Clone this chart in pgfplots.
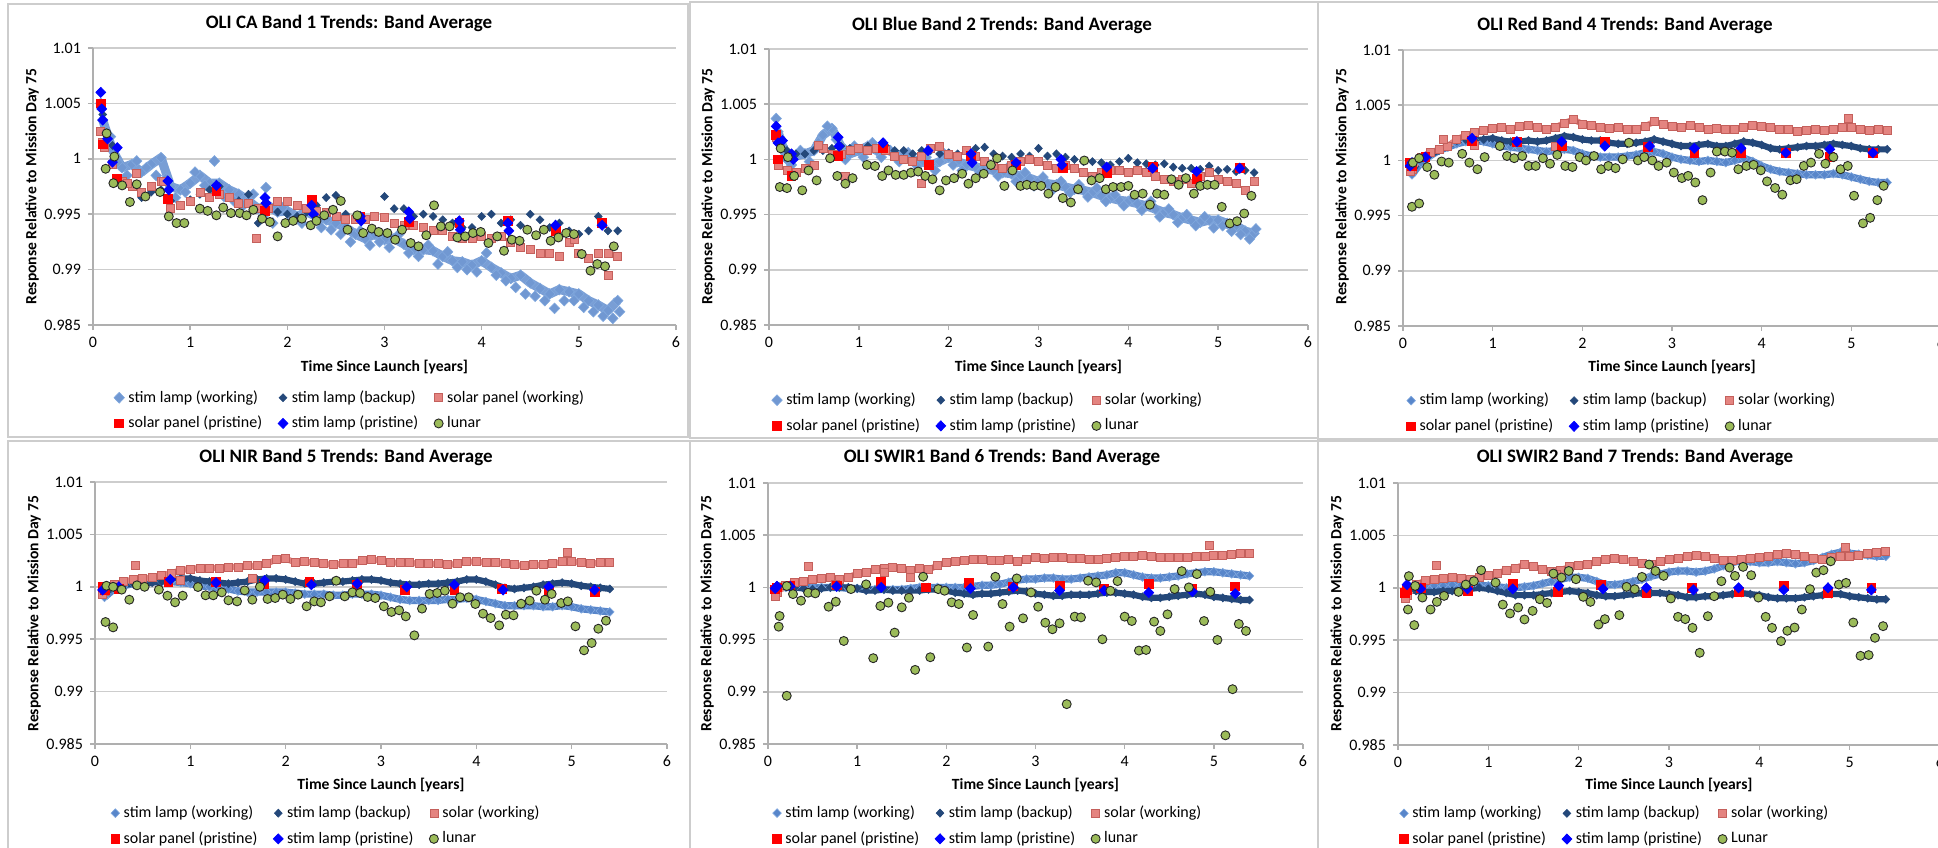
\documentclass[border=0pt]{standalone}
\usepackage{fontspec}
\setmainfont{Carlito}
\usepackage{pgfplots}
\usepackage{pgfplotstable}
\pgfplotsset{compat=1.18}
\definecolor{swc}{RGB}{88,134,202}
\definecolor{swd}{RGB}{128,168,222}
\definecolor{sbc}{RGB}{36,72,122}
\definecolor{soc}{RGB}{228,132,128}
\definecolor{sod}{RGB}{196,96,92}
\definecolor{lun}{RGB}{155,187,89}
\definecolor{gridc}{RGB}{205,205,205}
\definecolor{axc}{RGB}{175,175,175}
\definecolor{framec}{RGB}{205,205,205}
\pgfplotsset{
 panel/.style={scale only axis, anchor=south west, xmin=0, xmax=6, ymin=0.985, ymax=1.01,
  xtick={0,1,2,3,4,5,6}, xticklabels={0,1,2,3,4,5,6},
  ytick={0.985,0.99,0.995,1,1.005,1.01}, yticklabels={0.985,0.99,0.995,1,1.005,1.01},
  axis x line*=bottom, axis y line*=left, ymajorgrids,
  grid style={line width=0.8pt, color=gridc},
  axis line style={line width=0.8pt, color=axc},
  tick style={line width=0.8pt, color=axc}, tick align=outside, major tick length=2.5pt,
  ticklabel style={font=\fontsize{8}{9.6}\selectfont, text=black},
  legend columns=3, legend cell align=left,
  legend style={draw=none, fill=none, anchor=center, font=\fontsize{8}{9.6}\selectfont, row sep=1.5pt,
   /tikz/every even column/.append style={column sep=6pt}}},
 swm/.style={only marks, mark=diamond*, mark size=2.2pt, mark options={xscale=1.3, fill=swc, draw=swd, line width=0.3pt}},
 swb/.style={only marks, mark=diamond*, mark size=2.7pt, mark options={xscale=1.3, fill=swc!85!white, draw=swd, line width=0.3pt}},
 sbm/.style={only marks, mark=diamond*, mark size=2pt, mark options={xscale=1.3, fill=sbc, draw=sbc, line width=0.3pt}},
 som/.style={only marks, mark=square*, mark size=2pt, mark options={fill=soc, draw=sod, line width=0.35pt}},
 spm/.style={only marks, mark=square*, mark size=2.2pt, mark options={fill=red, draw=red}},
 stm/.style={only marks, mark=diamond*, mark size=2.5pt, mark options={xscale=1.3, fill=blue, draw=blue}},
 lum/.style={only marks, mark=*, mark size=2.25pt, mark options={fill=lun, draw=black!85, line width=0.45pt}},
 swl/.style={forget plot, no marks, color=swc, line width=3.6pt, line join=round},
 swlb/.style={forget plot, no marks, color=swc!80!white, line width=4.5pt, line join=round},
 sbl/.style={forget plot, no marks, color=sbc, line width=3.1pt, line join=round},
 sol/.style={forget plot, no marks, color=soc, line width=3pt, line join=round},
}
\newcommand\tfont{\fontsize{9.5}{11}\selectfont\bfseries}
\newcommand\lfont{\fontsize{7.8}{9}\selectfont\bfseries}

\pgfplotstableread{
x sw sb so
0.1 1.0035 1.0040 1.0015
0.2 1.0008 1.0012 0.9995
0.3 0.9992 0.9980 0.9980
0.4 0.9995 0.9975 0.9975
0.5 0.9988 0.9965 0.9970
0.6 0.9995 0.9970 0.9975
0.7 1.0001 0.9972 0.9980
0.8 0.9975 0.9962 0.9955
0.9 0.9972 0.9958 0.9958
1.0 0.9978 0.9963 0.9962
1.1 0.9985 0.9968 0.9970
1.2 0.9978 0.9972 0.9965
1.3 0.9978 0.9975 0.9968
1.4 0.9972 0.9965 0.9965
1.5 0.9968 0.9962 0.9960
1.6 0.9962 0.9968 0.9960
1.7 0.9955 0.9942 0.9955
1.8 0.9958 0.9958 0.9955
1.9 0.9952 0.9952 0.9962
2.0 0.9953 0.9950 0.9962
2.1 0.9948 0.9948 0.9958
2.2 0.9952 0.9952 0.9955
2.3 0.9948 0.9958 0.9953
2.4 0.9945 0.9965 0.9952
2.5 0.9942 0.9967 0.9948
2.6 0.9938 0.9950 0.9945
2.7 0.9932 0.9948 0.9945
2.8 0.9928 0.9945 0.9945
2.9 0.9932 0.9948 0.9948
3.0 0.9927 0.9966 0.9947
3.1 0.9928 0.9955 0.9942
3.2 0.9923 0.9955 0.9940
3.3 0.9918 0.9948 0.9940
3.4 0.9918 0.9950 0.9938
3.5 0.9917 0.9948 0.9935
3.6 0.9912 0.9945 0.9935
3.7 0.9908 0.9942 0.9930
3.8 0.9907 0.9938 0.9928
3.9 0.9904 0.9938 0.9928
4.0 0.9908 0.9948 0.9930
4.1 0.9902 0.9950 0.9928
4.2 0.9897 0.9942 0.9930
4.3 0.9892 0.9945 0.9925
4.4 0.9895 0.9940 0.9920
4.5 0.9888 0.9950 0.9918
4.6 0.9883 0.9945 0.9915
4.7 0.9878 0.9938 0.9915
4.8 0.9882 0.9942 0.9912
4.9 0.9880 0.9935 0.9925
5.0 0.9878 0.9932 0.9915
5.1 0.9872 0.9935 0.9910
5.2 0.9868 0.9948 0.9915
5.3 0.9863 0.9935 0.9915
5.4 0.9872 0.9935 0.9912
}\tA

\pgfplotstableread{
x sw sb so
0.1 1.0025 1.0015 0.9995
0.2 1.0000 1.0008 0.9990
0.3 1.0003 1.0005 0.9988
0.4 1.0005 1.0005 0.9992
0.5 1.0008 1.0008 0.9995
0.6 1.0022 1.0008 1.0010
0.7 1.0028 1.0010 1.0005
0.8 1.0012 1.0012 1.0005
0.9 1.0005 1.0010 1.0008
1.0 1.0008 1.0010 1.0010
1.1 1.0012 1.0012 1.0008
1.2 1.0008 1.0010 1.0010
1.3 1.0010 1.0012 1.0008
1.4 1.0005 1.0008 1.0003
1.5 1.0003 1.0008 1.0000
1.6 1.0000 1.0005 0.9998
1.7 0.9998 1.0008 1.0003
1.8 0.9995 1.0008 1.0010
1.9 0.9998 1.0005 1.0012
2.0 1.0002 1.0006 1.0005
2.1 0.9998 1.0005 1.0003
2.2 0.9995 1.0008 1.0008
2.3 0.9993 1.0010 1.0003
2.4 0.9992 1.0011 0.9998
2.5 0.9990 1.0005 0.9995
2.6 0.9988 1.0003 0.9992
2.7 0.9987 1.0002 0.9995
2.8 0.9985 1.0005 0.9998
2.9 0.9983 1.0003 1.0000
3.0 0.9980 1.0010 0.9998
3.1 0.9978 1.0003 0.9995
3.2 0.9977 1.0005 0.9992
3.3 0.9975 1.0002 0.9995
3.4 0.9973 1.0000 0.9992
3.5 0.9972 0.9998 0.9988
3.6 0.9970 0.9998 0.9985
3.7 0.9967 0.9997 0.9988
3.8 0.9965 0.9995 0.9990
3.9 0.9963 0.9998 0.9990
4.0 0.9962 1.0001 0.9988
4.1 0.9960 0.9997 0.9990
4.2 0.9958 0.9996 0.9988
4.3 0.9955 0.9995 0.9985
4.4 0.9952 0.9996 0.9982
4.5 0.9950 0.9993 0.9980
4.6 0.9947 0.9992 0.9982
4.7 0.9945 0.9992 0.9978
4.8 0.9943 0.9991 0.9985
4.9 0.9945 0.9994 0.9988
5.0 0.9945 0.9990 0.9982
5.1 0.9942 0.9991 0.9980
5.2 0.9940 0.9989 0.9978
5.3 0.9935 0.9990 0.9972
5.4 0.9933 0.9988 0.9980
}\tB

\pgfplotstableread{
x sw sb so
0.1 0.9987 0.9990 0.9992
0.2 0.9998 1.0002 1.0003
0.3 1.0004 1.0005 1.0007
0.4 1.0009 1.0009 1.0010
0.5 1.0012 1.0013 1.0013
0.6 1.0015 1.0018 1.0019
0.7 1.0017 1.0019 1.0023
0.8 1.0018 1.0018 1.0025
0.9 1.0017 1.0019 1.0027
1.0 1.0015 1.0020 1.0029
1.1 1.0013 1.0018 1.0030
1.2 1.0012 1.0017 1.0028
1.3 1.0011 1.0017 1.0031
1.4 1.0010 1.0018 1.0032
1.5 1.0009 1.0017 1.0030
1.6 1.0008 1.0018 1.0028
1.7 1.0009 1.0020 1.0030
1.8 1.0010 1.0022 1.0034
1.9 1.0009 1.0021 1.0037
2.0 1.0006 1.0019 1.0033
2.1 1.0004 1.0018 1.0032
2.2 1.0003 1.0018 1.0030
2.3 1.0003 1.0016 1.0029
2.4 1.0003 1.0015 1.0030
2.5 1.0004 1.0015 1.0028
2.6 1.0005 1.0016 1.0028
2.7 1.0007 1.0017 1.0031
2.8 1.0008 1.0019 1.0035
2.9 1.0006 1.0017 1.0033
3.0 1.0003 1.0015 1.0031
3.1 1.0001 1.0013 1.0030
3.2 1.0000 1.0013 1.0032
3.3 0.9999 1.0014 1.0030
3.4 1.0000 1.0015 1.0028
3.5 0.9999 1.0013 1.0029
3.6 0.9998 1.0013 1.0028
3.7 1.0000 1.0015 1.0028
3.8 1.0002 1.0017 1.0030
3.9 0.9999 1.0016 1.0032
4.0 0.9995 1.0014 1.0031
4.1 0.9992 1.0011 1.0030
4.2 0.9990 1.0010 1.0028
4.3 0.9989 1.0011 1.0028
4.4 0.9988 1.0012 1.0026
4.5 0.9987 1.0013 1.0027
4.6 0.9987 1.0013 1.0028
4.7 0.9987 1.0014 1.0027
4.8 0.9988 1.0015 1.0028
4.9 0.9987 1.0014 1.0030
5.0 0.9985 1.0013 1.0030
5.1 0.9983 1.0011 1.0028
5.2 0.9981 1.0010 1.0027
5.3 0.9980 1.0010 1.0028
5.4 0.9980 1.0010 1.0027
}\tC

\pgfplotstableread{
x sw sb so
0.1 0.9990 0.9995 0.9996
0.2 0.9998 0.9999 1.0002
0.3 1.0001 1.0002 1.0005
0.4 1.0003 1.0003 1.0007
0.5 1.0004 1.0003 1.0008
0.6 1.0005 1.0004 1.0009
0.7 1.0005 1.0005 1.0011
0.8 1.0005 1.0007 1.0013
0.9 1.0004 1.0008 1.0016
1.0 1.0003 1.0008 1.0017
1.1 1.0001 1.0006 1.0018
1.2 1.0000 1.0005 1.0018
1.3 0.9999 1.0004 1.0018
1.4 0.9998 1.0003 1.0019
1.5 0.9996 1.0004 1.0019
1.6 0.9995 1.0005 1.0020
1.7 0.9995 1.0007 1.0020
1.8 0.9995 1.0008 1.0022
1.9 0.9995 1.0008 1.0026
2.0 0.9995 1.0007 1.0027
2.1 0.9994 1.0005 1.0023
2.2 0.9993 1.0003 1.0024
2.3 0.9993 1.0003 1.0023
2.4 0.9993 1.0004 1.0022
2.5 0.9992 1.0005 1.0021
2.6 0.9992 1.0005 1.0022
2.7 0.9993 1.0006 1.0022
2.8 0.9993 1.0007 1.0025
2.9 0.9993 1.0007 1.0026
3.0 0.9992 1.0006 1.0025
3.1 0.9990 1.0004 1.0023
3.2 0.9988 1.0003 1.0023
3.3 0.9987 1.0002 1.0023
3.4 0.9987 1.0002 1.0022
3.5 0.9987 1.0003 1.0022
3.6 0.9987 1.0003 1.0022
3.7 0.9988 1.0004 1.0021
3.8 0.9988 1.0005 1.0022
3.9 0.9989 1.0007 1.0024
4.0 0.9988 1.0007 1.0024
4.1 0.9986 1.0005 1.0023
4.2 0.9984 1.0002 1.0023
4.3 0.9982 0.9999 1.0022
4.4 0.9982 0.9998 1.0021
4.5 0.9982 0.9999 1.0020
4.6 0.9982 1.0000 1.0021
4.7 0.9981 1.0002 1.0021
4.8 0.9981 1.0003 1.0022
4.9 0.9982 1.0004 1.0024
5.0 0.9981 1.0003 1.0024
5.1 0.9979 1.0001 1.0023
5.2 0.9978 1.0000 1.0022
5.3 0.9977 0.9999 1.0023
5.4 0.9976 0.9998 1.0023
}\tD

\pgfplotstableread{
x sw sb so
0.1 0.9999 1.0002 0.9995
0.2 1.0000 1.0001 1.0002
0.3 1.0000 1.0000 1.0005
0.4 1.0000 0.9999 1.0006
0.5 1.0000 0.9998 1.0008
0.6 1.0000 0.9999 1.0009
0.7 1.0000 1.0000 1.0010
0.8 1.0000 1.0000 1.0008
0.9 0.9999 1.0000 1.0010
1.0 0.9999 0.9999 1.0013
1.1 0.9998 0.9997 1.0014
1.2 0.9998 0.9997 1.0017
1.3 0.9998 0.9998 1.0018
1.4 0.9998 0.9997 1.0019
1.5 0.9998 0.9997 1.0018
1.6 0.9999 0.9997 1.0016
1.7 1.0000 0.9997 1.0018
1.8 1.0000 0.9998 1.0017
1.9 1.0000 0.9998 1.0021
2.0 1.0000 0.9997 1.0024
2.1 1.0000 0.9995 1.0025
2.2 1.0000 0.9994 1.0026
2.3 1.0001 0.9993 1.0027
2.4 1.0002 0.9994 1.0027
2.5 1.0002 0.9994 1.0026
2.6 1.0003 0.9995 1.0026
2.7 1.0005 0.9996 1.0027
2.8 1.0007 0.9997 1.0025
2.9 1.0008 0.9996 1.0027
3.0 1.0008 0.9994 1.0029
3.1 1.0009 0.9993 1.0028
3.2 1.0009 0.9992 1.0029
3.3 1.0008 0.9992 1.0029
3.4 1.0008 0.9993 1.0028
3.5 1.0009 0.9993 1.0028
3.6 1.0010 0.9993 1.0027
3.7 1.0011 0.9994 1.0027
3.8 1.0012 0.9995 1.0028
3.9 1.0014 0.9995 1.0029
4.0 1.0014 0.9994 1.0030
4.1 1.0012 0.9993 1.0030
4.2 1.0010 0.9991 1.0031
4.3 1.0009 0.9990 1.0030
4.4 1.0009 0.9990 1.0029
4.5 1.0010 0.9991 1.0029
4.6 1.0011 0.9992 1.0029
4.7 1.0013 0.9993 1.0029
4.8 1.0014 0.9994 1.0030
4.9 1.0015 0.9993 1.0030
5.0 1.0015 0.9991 1.0031
5.1 1.0014 0.9990 1.0031
5.2 1.0013 0.9989 1.0032
5.3 1.0012 0.9988 1.0033
5.4 1.0011 0.9988 1.0033
}\tE

\pgfplotstableread{
x sw sb so
0.1 0.9999 0.9998 0.9993
0.2 1.0001 0.9997 1.0003
0.3 1.0002 0.9996 1.0007
0.4 1.0002 0.9996 1.0008
0.5 1.0002 0.9997 1.0009
0.6 1.0003 0.9997 1.0010
0.7 1.0003 0.9998 1.0009
0.8 1.0002 0.9999 1.0008
0.9 1.0002 1.0000 1.0010
1.0 1.0002 0.9999 1.0012
1.1 1.0001 0.9997 1.0014
1.2 1.0000 0.9995 1.0017
1.3 1.0000 0.9993 1.0019
1.4 1.0001 0.9993 1.0022
1.5 1.0002 0.9993 1.0020
1.6 1.0004 0.9994 1.0018
1.7 1.0006 0.9995 1.0016
1.8 1.0008 0.9996 1.0017
1.9 1.0010 0.9997 1.0020
2.0 1.0010 0.9996 1.0021
2.1 1.0009 0.9995 1.0022
2.2 1.0006 0.9993 1.0025
2.3 1.0003 0.9992 1.0027
2.4 1.0003 0.9992 1.0028
2.5 1.0004 0.9993 1.0027
2.6 1.0006 0.9994 1.0025
2.7 1.0008 0.9995 1.0023
2.8 1.0011 0.9995 1.0022
2.9 1.0013 0.9995 1.0025
3.0 1.0015 0.9994 1.0027
3.1 1.0016 0.9993 1.0028
3.2 1.0016 0.9991 1.0030
3.3 1.0015 0.9991 1.0031
3.4 1.0016 0.9992 1.0030
3.5 1.0018 0.9992 1.0028
3.6 1.0021 0.9993 1.0026
3.7 1.0024 0.9994 1.0026
3.8 1.0026 0.9995 1.0027
3.9 1.0025 0.9994 1.0028
4.0 1.0024 0.9993 1.0029
4.1 1.0024 0.9991 1.0030
4.2 1.0025 0.9990 1.0032
4.3 1.0024 0.9990 1.0033
4.4 1.0023 0.9990 1.0032
4.5 1.0024 0.9991 1.0030
4.6 1.0026 0.9992 1.0028
4.7 1.0029 0.9993 1.0027
4.8 1.0032 0.9994 1.0029
4.9 1.0034 0.9994 1.0030
5.0 1.0033 0.9992 1.0030
5.1 1.0032 0.9991 1.0031
5.2 1.0031 0.9990 1.0033
5.3 1.0030 0.9989 1.0034
5.4 1.0030 0.9989 1.0035
}\tF

\begin{document}
\begin{tikzpicture}
\useasboundingbox (0,0) rectangle (969pt,423.5pt);
\draw[framec, line width=0.8pt] (4pt,205pt) rectangle (344pt,421.5pt);
\draw[framec, line width=0.8pt] (345pt,204.5pt) rectangle (659pt,422.5pt);
\draw[framec, line width=0.8pt] (659pt,204pt) rectangle (970pt,422.5pt);
\draw[framec, line width=0.8pt] (4pt,-1pt) rectangle (345pt,203pt);
\draw[framec, line width=0.8pt] (345pt,-1pt) rectangle (659pt,203pt);
\draw[framec, line width=0.8pt] (659pt,-1pt) rectangle (970pt,203pt);

% ---------- Panel 1: CA ----------
\begin{axis}[panel, at={(46.5pt,261pt)}, width=291.5pt, height=138.5pt, legend style={at={(0.4425,-0.309)}}]
\addplot[swlb] table[x=x,y=sw]{\tA};
\addplot[swb] table[x=x,y=sw]{\tA};
\addplot[swb, forget plot] coordinates {(0.15,1.0015)(0.25,0.9997)(0.35,0.9985)(0.45,0.9998)(0.55,0.9992)(0.65,0.9985)(0.75,0.9982)(0.85,0.9965)(0.95,0.9970)(1.05,0.9988)(1.15,0.9976)(1.25,0.9972)(1.35,0.9966)(1.45,0.9962)(1.55,0.9958)(1.65,0.9968)(1.75,0.9948)(1.85,0.9942)(1.95,0.9956)(2.05,0.9945)(2.15,0.9942)(2.25,0.9955)(2.35,0.9938)(2.45,0.9936)(2.55,0.9932)(2.65,0.9925)(2.75,0.9935)(2.85,0.9922)(2.95,0.9925)(3.05,0.9920)(3.15,0.9932)(3.25,0.9915)(3.35,0.9912)(3.45,0.9922)(3.55,0.9905)(3.65,0.9916)(3.75,0.9902)(3.85,0.9900)(3.95,0.9898)(4.05,0.9915)(4.15,0.9895)(4.25,0.9890)(4.35,0.9884)(4.45,0.9878)(4.55,0.9876)(4.65,0.9872)(4.75,0.9865)(4.85,0.9872)(4.95,0.9872)(5.05,0.9866)(5.15,0.9862)(5.25,0.9858)(5.35,0.9856)(5.42,0.9862)(0.08,1.0050)(1.25,0.9998)(1.78,0.9974)(0.12,1.0025)(0.18,1.0020)};
\addplot[sbm] table[x=x,y=sb]{\tA};
\addplot[som] table[x=x,y=so]{\tA};
\addplot[som, forget plot] coordinates {(0.08,1.0025)(0.12,1.0010)(0.45,0.9987)(1.68,0.9928)(4.95,0.9927)(5.3,0.9895)(0.72,0.9980)(0.35,0.9978)};
\addplot[spm] coordinates {(0.08,1.0050)(0.1,1.0013)(0.25,0.9982)(0.77,0.9964)(1.27,0.9971)(1.77,0.9953)(2.25,0.9963)(2.75,0.9948)(3.25,0.9943)(3.77,0.9942)(4.27,0.9944)(4.76,0.9935)(5.24,0.9942)};
\addplot[stm] coordinates {(0.08,1.0060)(0.09,1.0045)(0.1,1.0035)(0.15,1.0018)(0.2,0.9997)(0.25,1.0010)(0.77,0.9980)(0.78,0.9972)(1.27,0.9976)(1.77,0.9965)(1.78,0.9960)(2.25,0.9958)(2.27,0.9950)(2.75,0.9948)(2.76,0.9944)(3.25,0.9952)(3.26,0.9946)(3.77,0.9944)(3.78,0.9936)(4.27,0.9942)(4.28,0.9935)(4.76,0.9940)(5.24,0.9940)};
\addplot[lum] coordinates {(0.13,0.9991)(0.14,1.0023)(0.22,1.0002)(0.21,0.9978)(0.30,0.9976)(0.38,0.9961)(0.45,0.9977)(0.54,0.9966)(0.69,0.9970)(0.78,0.9948)(0.86,0.9942)(0.94,0.9942)(1.10,0.9955)(1.18,0.9953)(1.27,0.9949)(1.34,0.9956)(1.42,0.9951)(1.51,0.9951)(1.58,0.9949)(1.65,0.9954)(1.74,0.9946)(1.82,0.9943)(1.90,0.9930)(1.98,0.9942)(2.06,0.9944)(2.15,0.9946)(2.24,0.9940)(2.30,0.9944)(2.38,0.9949)(2.47,0.9954)(2.55,0.9962)(2.62,0.9936)(2.72,0.9949)(2.78,0.9933)(2.87,0.9937)(2.94,0.9934)(3.03,0.9933)(3.11,0.9927)(3.18,0.9936)(3.27,0.9924)(3.35,0.9921)(3.43,0.9931)(3.51,0.9958)(3.58,0.9939)(3.67,0.9939)(3.75,0.9929)(3.83,0.9930)(3.91,0.9933)(3.99,0.9934)(4.07,0.9924)(4.16,0.9930)(4.23,0.9917)(4.31,0.9927)(4.39,0.9926)(4.47,0.9936)(4.56,0.9931)(4.64,0.9936)(4.71,0.9926)(4.79,0.9929)(4.87,0.9933)(4.95,0.9932)(5.03,0.9914)(5.12,0.9899)(5.19,0.9905)(5.27,0.9903)(5.36,0.9921)};
\legend{stim lamp (working),stim lamp (backup),solar panel (working),solar panel (pristine),stim lamp (pristine),lunar}
\end{axis}

% ---------- Panel 2: Blue ----------
\begin{axis}[panel, at={(384.5pt,261pt)}, width=269.5pt, height=138pt, legend style={at={(0.408,-0.319)}}]
\addplot[swlb] table[x=x,y=sw]{\tB};
\addplot[swb] table[x=x,y=sw]{\tB};
\addplot[swb, forget plot] coordinates {(0.15,1.0012)(0.25,0.9995)(0.35,1.0008)(0.45,0.9998)(0.55,1.0015)(0.65,1.0030)(0.75,1.0018)(0.85,1.0000)(0.95,1.0012)(1.05,1.0002)(1.15,1.0015)(1.25,1.0002)(1.35,1.0008)(1.45,0.9998)(1.55,1.0006)(1.65,0.9994)(1.75,1.0002)(1.85,0.9990)(1.95,1.0005)(2.05,0.9995)(2.15,0.9990)(2.25,0.9998)(2.35,0.9988)(2.45,0.9995)(2.55,0.9985)(2.65,0.9992)(2.75,0.9980)(2.85,0.9988)(2.95,0.9976)(3.05,0.9984)(3.15,0.9972)(3.25,0.9980)(3.35,0.9970)(3.45,0.9977)(3.55,0.9966)(3.65,0.9974)(3.75,0.9962)(3.85,0.9968)(3.95,0.9958)(4.05,0.9965)(4.15,0.9954)(4.25,0.9962)(4.35,0.9948)(4.45,0.9955)(4.55,0.9943)(4.65,0.9950)(4.75,0.9940)(4.85,0.9948)(4.95,0.9938)(5.05,0.9940)(5.15,0.9935)(5.25,0.9932)(5.35,0.9928)(5.42,0.9937)(0.08,1.0037)(0.12,1.0020)};
\addplot[sbm] table[x=x,y=sb]{\tB};
\addplot[som] table[x=x,y=so]{\tB};
\addplot[som, forget plot] coordinates {(0.08,1.0020)(0.55,1.0013)(0.85,0.9985)(1.7,0.9978)};
\addplot[spm] coordinates {(0.08,1.0022)(0.1,1.0000)(0.25,0.9985)(0.77,1.0003)(1.27,1.0010)(1.78,0.9995)(2.25,1.0003)(2.75,0.9995)(3.27,0.9992)(3.76,0.9988)(4.27,0.9993)(4.76,0.9982)(5.24,0.9992)};
\addplot[stm] coordinates {(0.08,1.0030)(0.1,1.0015)(0.15,1.0017)(0.25,1.0005)(0.27,1.0000)(0.77,1.0020)(0.78,1.0012)(1.27,1.0015)(1.77,1.0008)(2.25,1.0005)(2.26,0.9997)(2.75,0.9997)(3.25,1.0000)(3.26,0.9995)(3.76,0.9993)(4.27,0.9992)(4.76,0.9989)(5.24,0.9992)};
\addplot[lum] coordinates {(0.12,0.9975)(0.13,1.0010)(0.20,0.9974)(0.21,1.0002)(0.28,0.9985)(0.37,0.9972)(0.44,0.9990)(0.53,0.9981)(0.68,1.0001)(0.76,0.9985)(0.85,0.9978)(0.93,0.9983)(1.09,0.9995)(1.18,0.9994)(1.26,0.9985)(1.33,0.9990)(1.41,0.9986)(1.50,0.9986)(1.58,0.9988)(1.66,0.9989)(1.74,0.9985)(1.82,0.9982)(1.90,0.9972)(1.97,0.9981)(2.06,0.9983)(2.15,0.9987)(2.22,0.9978)(2.30,0.9983)(2.39,0.9987)(2.47,0.9995)(2.54,1.0001)(2.62,0.9976)(2.71,0.9990)(2.80,0.9976)(2.87,0.9977)(2.95,0.9976)(3.03,0.9976)(3.11,0.9969)(3.19,0.9975)(3.27,0.9965)(3.36,0.9961)(3.44,0.9973)(3.51,0.9999)(3.59,0.9981)(3.68,0.9983)(3.75,0.9973)(3.83,0.9975)(3.92,0.9975)(4.00,0.9976)(4.07,0.9968)(4.16,0.9969)(4.24,0.9959)(4.32,0.9969)(4.40,0.9968)(4.48,0.9982)(4.56,0.9977)(4.64,0.9983)(4.73,0.9969)(4.80,0.9976)(4.88,0.9977)(4.96,0.9977)(5.04,0.9957)(5.13,0.9942)(5.21,0.9944)(5.29,0.9951)(5.37,0.9967)};
\legend{stim lamp (working),stim lamp (backup),solar (working),solar panel (pristine),stim lamp (pristine),lunar}
\end{axis}

% ---------- Panel 3: Red ----------
\begin{axis}[panel, at={(701.5pt,260.5pt)}, width=269pt, height=138pt, legend style={at={(0.409,-0.317)}}]
\addplot[swl] table[x=x,y=sw]{\tC};
\addplot[swm] table[x=x,y=sw]{\tC};
\addplot[sbl] table[x=x,y=sb]{\tC};
\addplot[sbm] table[x=x,y=sb]{\tC};
\addplot[sol] table[x=x,y=so]{\tC};
\addplot[som] table[x=x,y=so]{\tC};
\addplot[som, forget plot] coordinates {(0.08,0.9990)(0.45,1.0019)(0.8,1.0014)(1.7,1.0013)(4.97,1.0038)};
\addplot[spm] coordinates {(0.08,0.9998)(0.1,0.9995)(0.25,1.0003)(0.77,1.0018)(1.27,1.0017)(1.77,1.0013)(2.25,1.0017)(2.73,1.0012)(3.25,1.0007)(3.77,1.0007)(4.27,1.0007)(4.76,1.0003)(5.24,1.0007)};
\addplot[stm] coordinates {(0.08,0.9995)(0.1,0.9998)(0.25,1.0003)(0.77,1.0020)(1.27,1.0017)(1.77,1.0017)(2.25,1.0013)(2.75,1.0013)(3.25,1.0011)(3.77,1.0011)(4.27,1.0007)(4.76,1.0010)(5.24,1.0007)};
\addplot[lum] coordinates {(0.10,0.9958)(0.11,0.9998)(0.18,0.9961)(0.18,1.0002)(0.27,0.9994)(0.35,0.9987)(0.43,0.9999)(0.51,0.9998)(0.66,1.0006)(0.74,0.9998)(0.83,0.9992)(0.91,1.0003)(1.08,1.0013)(1.16,1.0004)(1.24,1.0002)(1.33,1.0004)(1.40,0.9995)(1.48,0.9995)(1.56,1.0002)(1.64,0.9997)(1.72,1.0005)(1.81,0.9995)(1.89,0.9994)(1.97,1.0003)(2.04,1.0000)(2.13,1.0004)(2.21,0.9992)(2.29,0.9995)(2.37,0.9993)(2.45,1.0001)(2.52,1.0016)(2.62,1.0000)(2.69,1.0003)(2.78,1.0000)(2.85,0.9995)(2.94,0.9998)(3.02,0.9989)(3.11,0.9984)(3.18,0.9986)(3.26,0.9980)(3.34,0.9964)(3.43,0.9989)(3.50,1.0008)(3.59,1.0008)(3.67,1.0007)(3.74,0.9992)(3.83,0.9995)(3.91,0.9996)(3.99,0.9991)(4.06,0.9981)(4.15,0.9975)(4.23,0.9969)(4.32,0.9982)(4.39,0.9983)(4.47,0.9995)(4.55,0.9998)(4.64,1.0006)(4.71,0.9997)(4.80,1.0003)(4.88,0.9992)(4.96,0.9995)(5.03,0.9968)(5.13,0.9943)(5.21,0.9948)(5.29,0.9964)(5.36,0.9977)};
\legend{stim lamp (working),stim lamp (backup),solar (working),solar panel (pristine),stim lamp (pristine),lunar}
\end{axis}

% ---------- Panel 4: NIR ----------
\begin{axis}[panel, at={(47.5pt,51.5pt)}, width=286pt, height=131pt, legend style={at={(0.406,-0.313)}}]
\addplot[swl] table[x=x,y=sw]{\tD};
\addplot[swm] table[x=x,y=sw]{\tD};
\addplot[sbl] table[x=x,y=sb]{\tD};
\addplot[sbm] table[x=x,y=sb]{\tD};
\addplot[sol] table[x=x,y=so]{\tD};
\addplot[som] table[x=x,y=so]{\tD};
\addplot[som, forget plot] coordinates {(0.08,0.9993)(0.42,1.0020)(0.9,1.0006)(1.65,1.0008)(4.95,1.0033)};
\addplot[spm] coordinates {(0.08,1.0000)(0.1,0.9997)(0.25,0.9998)(0.77,1.0005)(1.27,1.0005)(1.77,1.0003)(2.25,1.0005)(2.75,1.0002)(3.25,0.9997)(3.77,0.9997)(4.27,0.9998)(4.76,0.9995)(5.24,0.9995)};
\addplot[stm] coordinates {(0.08,0.9997)(0.25,1.0000)(0.79,1.0007)(1.27,1.0004)(1.78,1.0006)(2.27,1.0002)(2.75,1.0003)(3.27,1.0000)(3.77,1.0002)(4.28,0.9997)(4.76,1.0000)(5.24,0.9997)};
\addplot[lum] coordinates {(0.11,0.99664)(0.12,1.0001)(0.19,1.0000)(0.19,0.99613)(0.28,0.99973)(0.36,0.99877)(0.44,1.00014)(0.52,1.0000)(0.67,0.99973)(0.76,0.99915)(0.84,0.99852)(0.92,0.99915)(1.08,0.99998)(1.16,0.99919)(1.24,0.99919)(1.33,0.99947)(1.40,0.99871)(1.49,0.99861)(1.57,0.99966)(1.65,0.99877)(1.73,1.0000)(1.81,0.99884)(1.89,0.99893)(1.97,0.99925)(2.05,0.99884)(2.13,0.99925)(2.22,0.99814)(2.30,0.99861)(2.37,0.99852)(2.46,0.99909)(2.53,1.00058)(2.62,0.99909)(2.70,0.99947)(2.78,0.99941)(2.86,0.99903)(2.94,0.99893)(3.03,0.99814)(3.11,0.9976)(3.19,0.99776)(3.26,0.99718)(3.35,0.99537)(3.43,0.99792)(3.51,0.99932)(3.59,0.99941)(3.67,0.99963)(3.75,0.99839)(3.83,0.9990)(3.92,0.9990)(3.99,0.99836)(4.07,0.99744)(4.15,0.99702)(4.24,0.99632)(4.31,0.99734)(4.39,0.99728)(4.47,0.99839)(4.56,0.99868)(4.63,0.99963)(4.72,0.99877)(4.79,0.99932)(4.89,0.99845)(4.96,0.99861)(5.04,0.99623)(5.13,0.99394)(5.21,0.99464)(5.28,0.9960)(5.36,0.99677)};
\legend{stim lamp (working),stim lamp (backup),solar (working),solar panel (pristine),stim lamp (pristine),lunar}
\end{axis}

% ---------- Panel 5: SWIR1 ----------
\begin{axis}[panel, at={(384pt,51.5pt)}, width=267.5pt, height=130.5pt, legend style={at={(0.413,-0.314)}}]
\addplot[swl] table[x=x,y=sw]{\tE};
\addplot[swm] table[x=x,y=sw]{\tE};
\addplot[sbl] table[x=x,y=sb]{\tE};
\addplot[sbm] table[x=x,y=sb]{\tE};
\addplot[sol] table[x=x,y=so]{\tE};
\addplot[som] table[x=x,y=so]{\tE};
\addplot[som, forget plot] coordinates {(0.08,0.9991)(0.45,1.0020)(0.75,1.0003)(1.3,1.0014)(1.6,1.0010)(4.95,1.0040)};
\addplot[spm] coordinates {(0.08,0.9998)(0.1,1.0000)(0.25,1.0002)(0.77,1.0002)(1.27,1.0005)(1.77,1.0000)(2.25,1.0004)(2.75,1.0001)(3.27,1.0002)(3.77,0.9999)(4.27,1.0003)(4.76,0.9999)(5.24,1.0001)};
\addplot[stm] coordinates {(0.08,0.9999)(0.1,1.0001)(0.25,1.0001)(0.77,1.0001)(1.27,1.0000)(2.27,0.9999)(2.75,1.0000)(3.27,0.9997)(3.77,0.9997)(4.27,0.9995)(4.76,0.9996)(5.24,0.9994)};
\addplot[lum] coordinates {(0.13,0.99726)(0.12,0.99624)(0.21,1.00013)(0.21,0.98962)(0.28,0.99936)(0.37,0.99873)(0.45,0.99949)(0.53,0.99943)(0.68,0.99815)(0.76,0.99863)(0.85,0.99487)(0.93,0.99984)(1.10,1.00029)(1.18,0.99322)(1.26,0.99822)(1.35,0.99854)(1.42,0.99567)(1.50,0.99809)(1.58,0.99901)(1.65,0.9921)(1.74,1.00102)(1.82,0.99331)(1.91,0.99984)(1.98,0.99968)(2.06,0.99857)(2.14,0.99841)(2.23,0.99424)(2.30,0.99736)(2.47,0.99433)(2.55,1.00102)(2.63,0.99841)(2.71,0.99624)(2.79,1.00086)(2.86,0.99704)(2.95,0.99952)(3.03,0.99815)(3.11,0.99662)(3.19,0.99599)(3.27,0.99656)(3.35,0.98882)(3.44,0.9972)(3.51,0.99713)(3.59,1.00064)(3.68,1.00048)(3.75,0.99503)(3.84,0.99968)(3.92,1.0006)(4.00,0.9972)(4.08,0.99678)(4.16,0.99395)(4.24,0.99401)(4.33,0.99672)(4.40,0.99583)(4.48,0.99742)(4.56,0.99984)(4.64,1.00156)(4.72,1.0000)(4.81,1.00127)(4.89,0.99678)(4.96,0.99958)(5.04,0.99497)(5.13,0.98583)(5.21,0.99025)(5.28,0.9965)(5.36,0.99583)};
\legend{stim lamp (working),stim lamp (backup),solar (working),solar panel (pristine),stim lamp (pristine),lunar}
\end{axis}

% ---------- Panel 6: SWIR2 ----------
\begin{axis}[panel, at={(699pt,51pt)}, width=271pt, height=131pt, legend style={at={(0.402,-0.310)}}]
\addplot[swl] table[x=x,y=sw]{\tF};
\addplot[swm] table[x=x,y=sw]{\tF};
\addplot[sbl] table[x=x,y=sb]{\tF};
\addplot[sbm] table[x=x,y=sb]{\tF};
\addplot[sol] table[x=x,y=so]{\tF};
\addplot[som] table[x=x,y=so]{\tF};
\addplot[som, forget plot] coordinates {(0.08,0.9990)(0.42,1.0021)(1.75,1.0013)(4.95,1.0039)};
\addplot[spm] coordinates {(0.08,0.9995)(0.1,0.9998)(0.25,1.0000)(0.77,0.9997)(1.27,1.0004)(1.77,0.9996)(2.25,1.0003)(2.75,0.9995)(3.25,1.0000)(3.77,0.9996)(4.27,1.0002)(4.76,0.9995)(5.24,1.0000)};
\addplot[stm] coordinates {(0.1,1.0003)(0.25,0.9999)(0.77,0.9999)(1.27,0.9999)(1.78,1.0002)(2.27,0.9999)(2.75,1.0000)(3.27,0.9998)(3.77,1.0000)(4.27,0.9998)(4.76,1.0000)(5.24,0.9998)};
\addplot[lum] coordinates {(0.11,0.99793)(0.12,1.00111)(0.18,0.99644)(0.19,1.00018)(0.27,0.99907)(0.36,0.99793)(0.43,0.99866)(0.51,0.99923)(0.67,0.99961)(0.75,1.00031)(0.84,1.00063)(0.92,1.00168)(1.08,1.0005)(1.16,0.9984)(1.24,0.99755)(1.33,0.99812)(1.40,0.99698)(1.49,0.9978)(1.57,0.99891)(1.65,0.99856)(1.72,1.00136)(1.81,1.00098)(1.89,1.00161)(1.97,1.00082)(2.05,0.99914)(2.13,0.99866)(2.22,0.9965)(2.29,0.99701)(2.45,0.99739)(2.53,1.00009)(2.62,0.99987)(2.70,1.00104)(2.78,1.00222)(2.85,1.00161)(2.94,1.00114)(3.02,0.99898)(3.10,0.99723)(3.18,0.99701)(3.26,0.99618)(3.34,0.9938)(3.43,0.99729)(3.50,0.9992)(3.58,1.00063)(3.67,1.00193)(3.73,1.00114)(3.82,1.0020)(3.91,1.0012)(3.99,0.99907)(4.07,0.99723)(4.14,0.99618)(4.24,0.99491)(4.31,0.9959)(4.39,0.99621)(4.47,0.99793)(4.56,0.99987)(4.63,1.00145)(4.71,1.00168)(4.79,1.00253)(4.88,1.00031)(4.96,1.00047)(5.04,0.99669)(5.12,0.99351)(5.21,0.99358)(5.28,0.99523)(5.37,0.99634)};
\legend{stim lamp (working),stim lamp (backup),solar (working),solar panel (pristine),stim lamp (pristine),Lunar}
\end{axis}

% titles
\node[font=\tfont] at (174.5pt,412pt) {OLI CA Band 1 Trends: Band Average};
\node[font=\tfont] at (501pt,411pt) {OLI Blue Band 2 Trends: Band Average};
\node[font=\tfont] at (812.5pt,411pt) {OLI Red Band 4 Trends: Band Average};
\node[font=\tfont] at (173pt,195pt) {OLI NIR Band 5 Trends: Band Average};
\node[font=\tfont] at (501pt,195pt) {OLI SWIR1 Band 6 Trends: Band Average};
\node[font=\tfont] at (817.5pt,195pt) {OLI SWIR2 Band 7 Trends: Band Average};
% x labels
\node[font=\lfont] at (192.25pt,240pt) {Time Since Launch [years]};
\node[font=\lfont] at (519.25pt,240pt) {Time Since Launch [years]};
\node[font=\lfont] at (836pt,240pt) {Time Since Launch [years]};
\node[font=\lfont] at (190.5pt,31pt) {Time Since Launch [years]};
\node[font=\lfont] at (517.75pt,31pt) {Time Since Launch [years]};
\node[font=\lfont] at (834.5pt,31pt) {Time Since Launch [years]};
% y labels
\node[font=\lfont, rotate=90] at (16pt,330.25pt) {Response Relative to Mission Day 75};
\node[font=\lfont, rotate=90] at (354pt,330.25pt) {Response Relative to Mission Day 75};
\node[font=\lfont, rotate=90] at (671pt,330.25pt) {Response Relative to Mission Day 75};
\node[font=\lfont, rotate=90] at (17pt,116.75pt) {Response Relative to Mission Day 75};
\node[font=\lfont, rotate=90] at (353.5pt,116.75pt) {Response Relative to Mission Day 75};
\node[font=\lfont, rotate=90] at (668.5pt,116.75pt) {Response Relative to Mission Day 75};
\end{tikzpicture}
\end{document}
